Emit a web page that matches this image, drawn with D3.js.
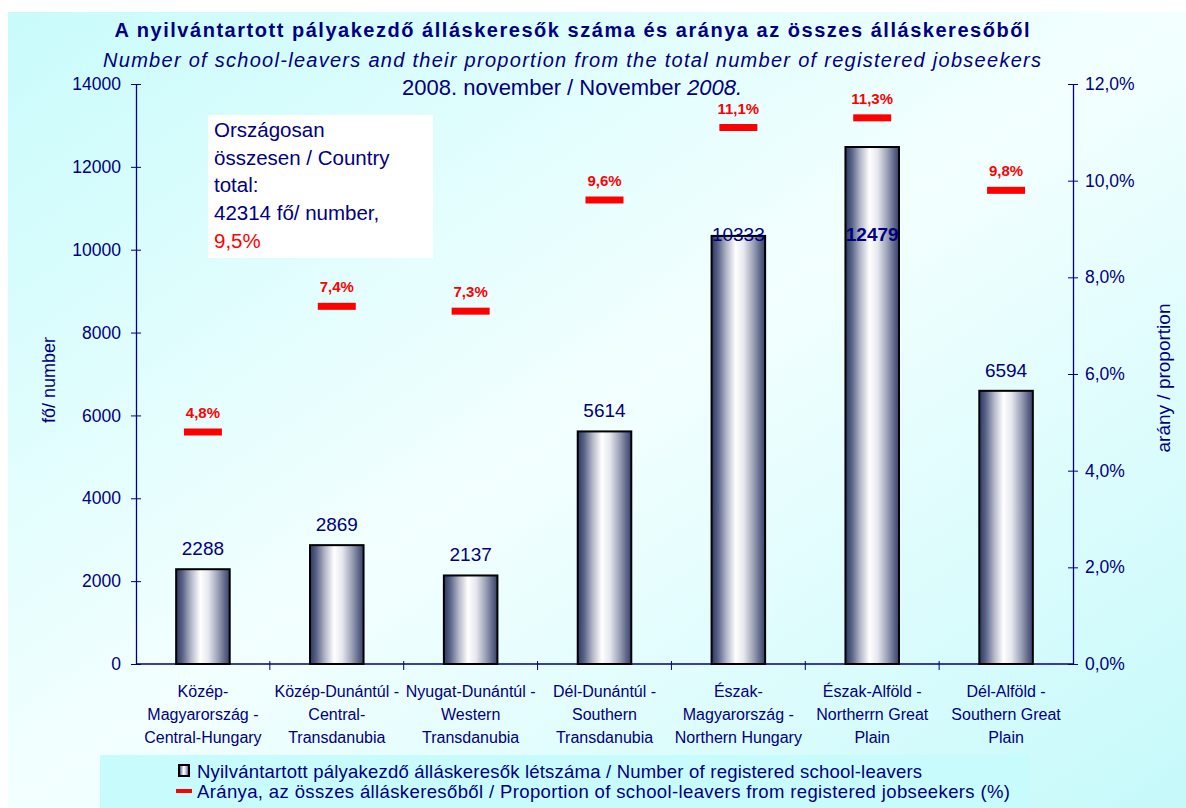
<!DOCTYPE html>
<html>
<head>
<meta charset="utf-8">
<script src="https://cdn.jsdelivr.net/npm/d3@7"></script>
<style>
  body { margin: 0; background: #fff; }
  svg { display: block; font-family: "Liberation Sans", Arial, sans-serif; }
</style>
</head>
<body>
<svg id="chart"></svg>
<script>
// data
var regions = [
  ["Közép-", "Magyarország -", "Central-Hungary"],
  ["Közép-Dunántúl -", "Central-", "Transdanubia"],
  ["Nyugat-Dunántúl -", "Western", "Transdanubia"],
  ["Dél-Dunántúl -", "Southern", "Transdanubia"],
  ["Észak-", "Magyarország -", "Northern Hungary"],
  ["Észak-Alföld -", "Northerrn Great", "Plain"],
  ["Dél-Alföld -", "Southern Great", "Plain"]
];
var schoolLeavers = [2288, 2869, 2137, 5614, 10333, 12479, 6594];
var proportion = [4.8, 7.4, 7.3, 9.6, 11.1, 11.3, 9.8];
var countTicks = [0, 2000, 4000, 6000, 8000, 10000, 12000, 14000];
var pctTicks = [0, 2, 4, 6, 8, 10, 12];
var totalCount = 42314;
var totalPct = 9.5;

var width = 1186, height = 808;
var navy = "#000080";
var svg = d3.select("#chart").attr("width", width).attr("height", height);

var defs = svg.append("defs");

// background
var bg = defs.append("linearGradient").attr("id", "bg")
  .attr("x1", 0).attr("y1", 0).attr("x2", 1).attr("y2", 1);
bg.append("stop").attr("offset", 0).attr("stop-color", "#c9fbfb");
bg.append("stop").attr("offset", 0.5).attr("stop-color", "#f3ffff");
bg.append("stop").attr("offset", 1).attr("stop-color", "#c6f9fa");

// cylinder look for the bars
var cyl = defs.append("linearGradient").attr("id", "cyl")
  .attr("x1", 0).attr("y1", 0).attr("x2", 1).attr("y2", 0);
[[0, "#2c3864"], [0.12, "#5a6488"], [0.28, "#b4b8c8"], [0.45, "#ffffff"],
 [0.6, "#e6e8ee"], [0.78, "#9ca2b6"], [0.92, "#5a6286"], [1, "#38426c"]]
  .forEach(function (s) {
    cyl.append("stop").attr("offset", s[0]).attr("stop-color", s[1]);
  });

svg.append("rect")
  .attr("x", 8).attr("y", 12)
  .attr("width", width - 8).attr("height", height - 12)
  .attr("fill", "url(#bg)");

//scales
var x = d3.scaleBand().domain(d3.range(regions.length)).range([136, 1073]);
var yLeft = d3.scaleLinear().domain([0, 14000]).range([664, 84]);
var yRight = d3.scaleLinear().domain([0, 12]).range([664, 84]);
var pct = function (v) { return d3.format(".1f")(v).replace(".", ",") + "%"; };

// title
svg.append("text")
  .attr("x", 572).attr("y", 37)
  .attr("text-anchor", "middle")
  .attr("textLength", 915).attr("lengthAdjust", "spacing")
  .style("font-size", "20px").style("font-weight", "bold")
  .attr("fill", navy)
  .text("A nyilvántartott pályakezdő álláskeresők száma és aránya az összes álláskeresőből");
svg.append("text")
  .attr("x", 572).attr("y", 67)
  .attr("text-anchor", "middle")
  .attr("textLength", 938).attr("lengthAdjust", "spacing")
  .style("font-size", "20px").style("font-style", "italic")
  .attr("fill", navy)
  .text("Number of school-leavers and their proportion from the total number of registered jobseekers");
var t3 = svg.append("text")
  .attr("x", 572).attr("y", 95)
  .attr("text-anchor", "middle")
  .style("font-size", "22px")
  .attr("fill", navy);
t3.append("tspan").text("2008. november / November ");
t3.append("tspan").style("font-style", "italic").text("2008.");

// axes
var leftAxis = svg.append("g")
  .attr("transform", "translate(" + x.range()[0] + ",0)")
  .call(d3.axisLeft(yLeft).tickValues(countTicks).tickFormat(d3.format("d"))
    .tickSize(5).tickSizeOuter(0).tickPadding(10));
var rightAxis = svg.append("g")
  .attr("transform", "translate(" + x.range()[1] + ",0)")
  .call(d3.axisRight(yRight).tickValues(pctTicks).tickFormat(pct)
    .tickSize(5).tickSizeOuter(0).tickPadding(7));
[leftAxis, rightAxis].forEach(function (a) {
  a.select(".domain").attr("stroke", navy).attr("stroke-width", 1.3);
  a.selectAll(".tick line").attr("stroke", navy).attr("x1", -5).attr("x2", 5);
  a.selectAll(".tick text").attr("fill", navy)
    .style("font-size", "17.5px").style("font-family", "Liberation Sans, Arial, sans-serif");
});

// x axis line and ticks between categories
svg.append("line")
  .attr("x1", x.range()[0]).attr("x2", x.range()[1])
  .attr("y1", yLeft(0)).attr("y2", yLeft(0))
  .attr("stroke", navy).attr("stroke-width", 1.3);
svg.selectAll(".xtick")
  .data(d3.range(1, regions.length))
  .enter()
  .append("line")
  .attr("x1", function (i) { return x(i); })
  .attr("x2", function (i) { return x(i); })
  .attr("y1", yLeft(0) - 3).attr("y2", yLeft(0) + 6)
  .attr("stroke", navy);

// axis titles
svg.append("text")
  .attr("transform", "translate(55,380) rotate(-90)")
  .attr("text-anchor", "middle")
  .style("font-size", "18px").attr("fill", navy)
  .text("fő/ number");
svg.append("text")
  .attr("transform", "translate(1170,378) rotate(-90)")
  .attr("text-anchor", "middle")
  .style("font-size", "19px").attr("fill", navy)
  .text("arány / proportion");

// category labels
regions.forEach(function (lines, i) {
  var t = svg.append("text")
    .attr("text-anchor", "middle")
    .style("font-size", "16px")
    .attr("fill", navy);
  lines.forEach(function (l, j) {
    t.append("tspan")
      .attr("x", x(i) + x.bandwidth() / 2)
      .attr("y", 697 + j * 23)
      .text(l);
  });
});

// bars
var barW = x.bandwidth() * 0.4;
svg.selectAll(".bar")
  .data(schoolLeavers)
  .enter()
  .append("rect")
  .attr("x", function (d, i) { return x(i) + (x.bandwidth() - barW) / 2; })
  .attr("y", function (d) { return yLeft(d); })
  .attr("width", barW)
  .attr("height", function (d) { return yLeft(0) - yLeft(d); })
  .attr("fill", "url(#cyl)")
  .attr("stroke", "#000")
  .attr("stroke-width", 2);

// value labels (they stop under the info box)
var valueLabelTop = 241;
var maxVal = d3.max(schoolLeavers);
svg.selectAll(".val")
  .data(schoolLeavers)
  .enter()
  .append("text")
  .attr("x", function (d, i) { return x(i) + x.bandwidth() / 2; })
  .attr("y", function (d) { return Math.max(yLeft(d) - 14, valueLabelTop); })
  .attr("text-anchor", "middle")
  .style("font-size", "19px")
  .style("font-weight", function (d) { return d == maxVal ? "bold" : "normal"; })
  .attr("fill", navy)
  .text(function (d) { return d; });

// proportion markers
var markW = 38;
svg.selectAll(".mark")
  .data(proportion)
  .enter()
  .append("rect")
  .attr("x", function (d, i) { return x(i) + (x.bandwidth() - markW) / 2; })
  .attr("y", function (d) { return yRight(d) - 3.5; })
  .attr("width", markW)
  .attr("height", 7)
  .attr("fill", "#ff0000");
svg.selectAll(".pct")
  .data(proportion)
  .enter()
  .append("text")
  .attr("x", function (d, i) { return x(i) + x.bandwidth() / 2; })
  .attr("y", function (d) { return yRight(d) - 14; })
  .attr("text-anchor", "middle")
  .style("font-size", "15px").style("font-weight", "bold")
  .attr("fill", "#ff0000")
  .text(pct);

// country total box
svg.append("rect")
  .attr("x", 208).attr("y", 115)
  .attr("width", 225).attr("height", 143)
  .attr("fill", "#fff");
var boxLines = ["Országosan", "összesen / Country", "total:",
  totalCount + " fő/ number,", pct(totalPct)];
boxLines.forEach(function (l, j) {
  svg.append("text")
    .attr("x", 214).attr("y", 137 + j * 27.7)
    .style("font-size", "20.5px")
    .attr("fill", j == 4 ? "#ff0000" : navy)
    .text(l);
});

// legend
svg.append("rect")
  .attr("x", 100).attr("y", 755)
  .attr("width", 930).attr("height", 53)
  .attr("fill", "#c8fbfb");
svg.append("rect")
  .attr("x", 179).attr("y", 765)
  .attr("width", 10).attr("height", 11)
  .attr("fill", "url(#cyl)").attr("stroke", "#000").attr("stroke-width", 2);
svg.append("rect")
  .attr("x", 176).attr("y", 789)
  .attr("width", 16).attr("height", 4)
  .attr("fill", "#ff0000");
svg.append("text")
  .attr("x", 197).attr("y", 778)
  .attr("textLength", 725).attr("lengthAdjust", "spacing")
  .style("font-size", "18.5px").attr("fill", navy)
  .text("Nyilvántartott pályakezdő álláskeresők létszáma / Number of registered school-leavers");
svg.append("text")
  .attr("x", 197).attr("y", 798)
  .attr("textLength", 813).attr("lengthAdjust", "spacing")
  .style("font-size", "18.5px").attr("fill", navy)
  .text("Aránya, az összes álláskeresőből / Proportion of school-leavers from registered jobseekers (%)");
</script>
</body>
</html>
